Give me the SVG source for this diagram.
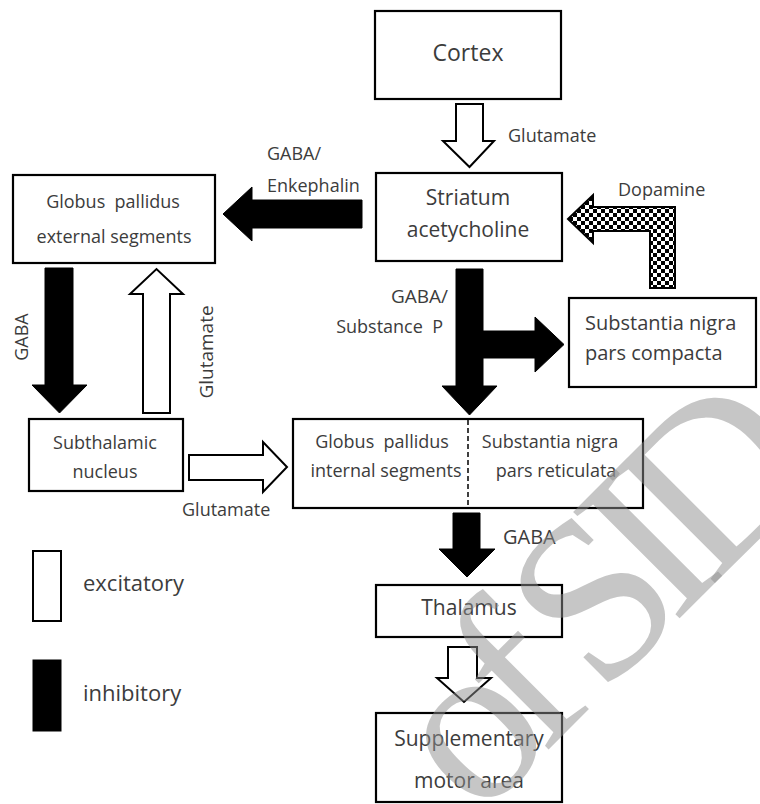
<svg xmlns="http://www.w3.org/2000/svg" width="760" height="804" viewBox="0 0 760 804">
<defs>
<pattern id="chk" width="8" height="8" patternUnits="userSpaceOnUse" x="1" y="1">
<rect width="8" height="8" fill="#fff"/>
<rect width="4" height="4" fill="#000"/>
<rect x="4" y="4" width="4" height="4" fill="#000"/>
</pattern>
</defs>
<style>
.box{fill:#fff;stroke:#000;stroke-width:2.2}
.t{font-family:"Open Sans","Noto Sans",sans-serif;fill:#3c3c3c}
.exc{fill:#fff;stroke:#000;stroke-width:2}
.inh{fill:#000;stroke:#000;stroke-width:1}
.wm{font-family:"Liberation Serif",serif;fill:#8e8e8e;fill-opacity:0.5}
</style>
<rect width="760" height="804" fill="#fff"/>

<g id="cortex">
<rect class="box" x="375" y="11" width="186" height="88"/>
<text class="t" x="468" y="61" font-size="23" text-anchor="middle">Cortex</text>
</g>
<g id="striatum">
<rect class="box" x="376" y="173" width="186" height="88"/>
<text class="t" x="468" y="205" font-size="21" text-anchor="middle">Striatum</text>
<text class="t" x="468" y="237" font-size="21" text-anchor="middle">acetycholine</text>
</g>
<g id="gpe">
<rect class="box" x="13" y="175" width="202" height="88"/>
<text class="t" x="113" y="208" font-size="18" text-anchor="middle" xml:space="preserve">Globus  pallidus</text>
<text class="t" x="114" y="243" font-size="18" text-anchor="middle">external segments</text>
</g>
<g id="snc">
<rect class="box" x="569" y="298" width="187" height="89"/>
<text class="t" x="585" y="330" font-size="20">Substantia nigra</text>
<text class="t" x="585" y="360" font-size="20">pars compacta</text>
</g>
<g id="stn">
<rect class="box" x="29" y="419" width="154" height="72"/>
<text class="t" x="105" y="449" font-size="18" text-anchor="middle">Subthalamic</text>
<text class="t" x="105" y="478" font-size="18" text-anchor="middle">nucleus</text>
</g>
<g id="gpi-snr">
<rect class="box" x="293" y="419" width="350" height="89"/>
<line x1="468" y1="420" x2="468" y2="507" stroke="#000" stroke-width="1.5" stroke-dasharray="5,3"/>
<text class="t" x="382" y="448" font-size="18" text-anchor="middle" xml:space="preserve">Globus  pallidus</text>
<text class="t" x="386" y="477" font-size="18" text-anchor="middle">internal segments</text>
<text class="t" x="550" y="448" font-size="18" text-anchor="middle">Substantia nigra</text>
<text class="t" x="556" y="477" font-size="18" text-anchor="middle">pars reticulata</text>
</g>
<g id="thalamus">
<rect class="box" x="376" y="585" width="186" height="52"/>
<text class="t" x="469" y="615" font-size="21" text-anchor="middle">Thalamus</text>
</g>
<g id="sma">
<rect class="box" x="376" y="713" width="186" height="89"/>
<text class="t" x="469" y="746" font-size="21" text-anchor="middle">Supplementary</text>
<text class="t" x="469" y="788" font-size="21" text-anchor="middle">motor area</text>
</g>

<g id="connectors">
<path class="exc" d="M456,104 H483 V141 H494 L469.5,167 L443,141 H456 Z"/>
<text class="t" x="508" y="142" font-size="18">Glutamate</text>

<path class="inh" d="M362,200 H252 V187 L223,214 L252,241 V228 H362 Z"/>
<text class="t" x="267" y="160" font-size="18">GABA/</text>
<text class="t" x="267" y="192" font-size="18">Enkephalin</text>

<path d="M568,219 L593,195 L593,207 L675,207 L675,288 L650,288 L650,231 L593,231 L593,243 Z" fill="url(#chk)" stroke="#000" stroke-width="2"/>
<text class="t" x="618" y="196" font-size="18">Dopamine</text>

<path class="inh" d="M456,269 H483 V331 H535 V317 L564,344.5 L535,372 V358 H483 V386 H497 L469.5,415 L442,386 H456 Z"/>
<text class="t" x="448" y="303" font-size="19" text-anchor="end">GABA/</text>
<text class="t" x="443" y="333" font-size="18" text-anchor="end" xml:space="preserve">Substance  P</text>

<path class="inh" d="M45,268 H73 V385 H87 L59.5,413 L32,385 H45 Z"/>
<text class="t" font-size="18" text-anchor="middle" transform="translate(28,337) rotate(-90)">GABA</text>

<path class="exc" d="M143,413 V294 H130 L156.5,269 L183,294 H170 V413 Z"/>
<text class="t" font-size="19" text-anchor="middle" transform="translate(213,352) rotate(-90)">Glutamate</text>

<path class="exc" d="M189,455 H263 V442 L287,467 L263,492 V480 H189 Z"/>
<text class="t" x="182" y="516" font-size="18">Glutamate</text>

<path class="inh" d="M453,513 H480 V549 H495 L467,577 L439,549 H453 Z"/>
<text class="t" x="503" y="544" font-size="20">GABA</text>

<path class="exc" d="M448,647 H477 V678 H491 L464,702 L437,678 H448 Z"/>
</g>

<g id="legend">
<rect class="exc" x="33" y="551" width="28" height="70"/>
<text class="t" x="83" y="591" font-size="22">excitatory</text>
<rect class="inh" x="33" y="660" width="28" height="71"/>
<text class="t" x="83" y="701" font-size="22">inhibitory</text>
</g>

<text class="wm" font-size="230" letter-spacing="-25" transform="translate(478,820) rotate(-45)">of SID</text>
</svg>
